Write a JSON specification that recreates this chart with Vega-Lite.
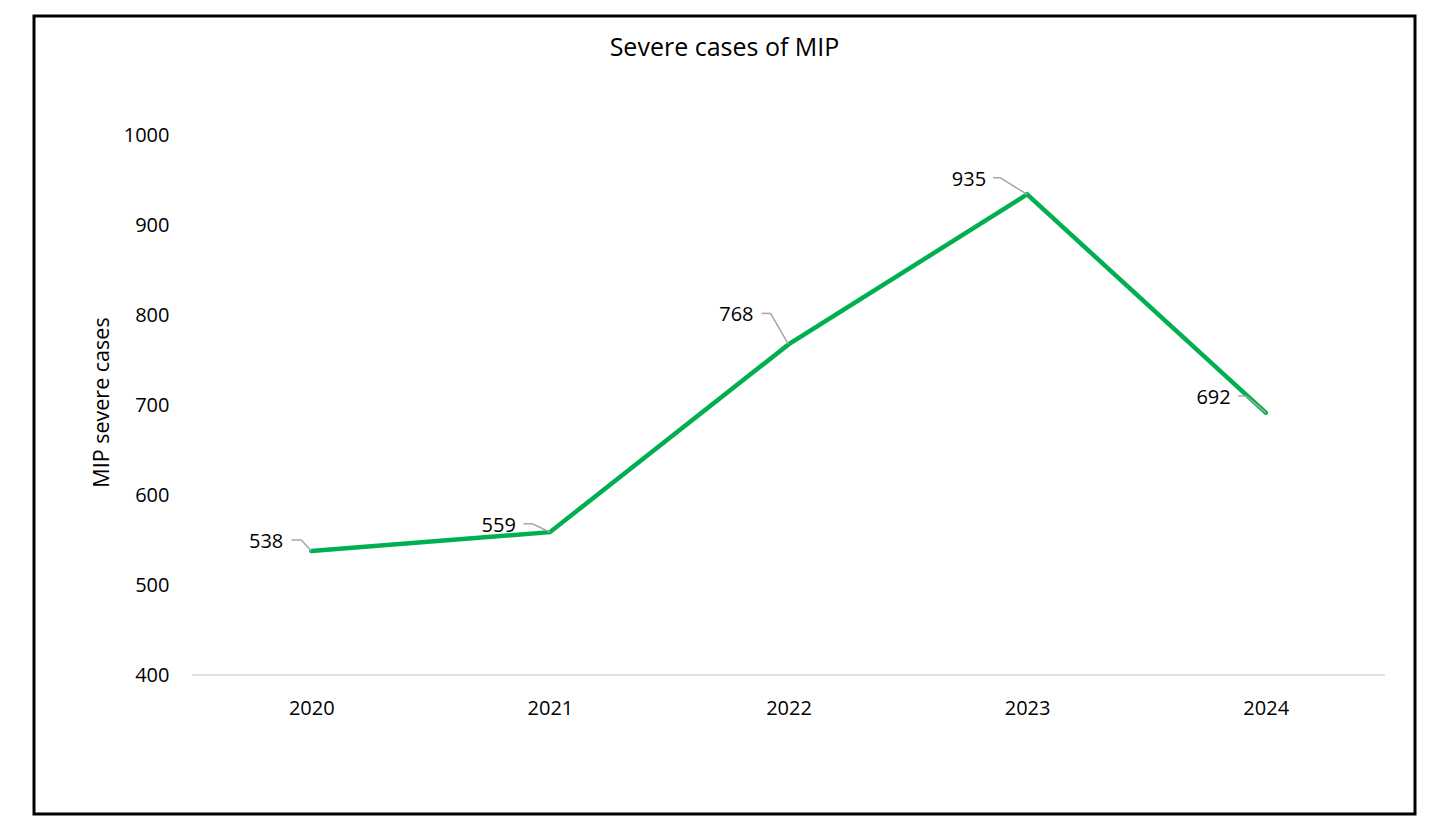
{
  "$schema": "https://vega.github.io/schema/vega-lite/v6.json",
  "autosize": "none",
  "width": 1381,
  "height": 798,
  "padding": {"left": 34, "top": 16, "right": 32, "bottom": 24},
  "background": "white",
  "config": {
    "font": "Open Sans",
    "view": {"stroke": "#000000", "strokeWidth": 3},
    "axis": {
      "labelFont": "Open Sans",
      "labelFontSize": 20,
      "labelColor": "#000000",
      "titleFont": "Open Sans",
      "titleFontSize": 21.5,
      "titleFontWeight": "normal",
      "titleColor": "#000000",
      "grid": false,
      "domain": false,
      "ticks": false,
      "tickSize": 0
    }
  },
  "title": {
    "text": "Severe cases of MIP",
    "font": "Open Sans",
    "fontSize": 25,
    "fontWeight": "normal",
    "color": "#000000",
    "anchor": "middle",
    "frame": "group",
    "baseline": "middle",
    "offset": -57
  },
  "datasets": {
    "cases": [
      {"year": 2020, "cases": 538},
      {"year": 2021, "cases": 559},
      {"year": 2022, "cases": 768},
      {"year": 2023, "cases": 935},
      {"year": 2024, "cases": 692}
    ],
    "baseline": [
      {"from": 2019.5, "to": 2024.5, "level": 400}
    ]
  },
  "data": {"name": "cases"},
  "encoding": {
    "x": {
      "field": "year",
      "type": "quantitative",
      "scale": {"domain": [2018.8378, 2024.6257], "nice": false, "zero": false},
      "axis": {
        "title": null,
        "values": [2020, 2021, 2022, 2023, 2024],
        "format": "d",
        "offset": -139,
        "labelPadding": 23,
        "labelBaseline": "top"
      }
    },
    "y": {
      "field": "cases",
      "type": "quantitative",
      "scale": {"domain": [245.27, 1133.58], "nice": false, "zero": false},
      "axis": {
        "title": "MIP severe cases",
        "values": [400, 500, 600, 700, 800, 900, 1000],
        "format": "d",
        "offset": -158,
        "labelPadding": 23,
        "titleX": -90,
        "titleY": 386,
        "titleAngle": -90,
        "titleAlign": "center",
        "titleBaseline": "middle"
      }
    }
  },
  "layer": [
    {
      "data": {"name": "baseline"},
      "mark": {"type": "rule", "color": "#d9d9d9", "strokeWidth": 1.5},
      "encoding": {
        "x": {"field": "from", "type": "quantitative"},
        "x2": {"field": "to"},
        "y": {"field": "level", "type": "quantitative"}
      }
    },
    {
      "mark": {"type": "line", "color": "#00b050", "strokeWidth": 4.5, "strokeCap": "round", "strokeJoin": "miter"}
    },
    {
      "transform": [{"filter": "datum.year == 2020"}],
      "layer": [
        {"mark": {"type": "rule", "color": "#a6a6a6", "strokeWidth": 1.5, "x2Offset": -10, "y2Offset": -11},
         "encoding": {"x2": {"field": "year"}, "y2": {"field": "cases"}}},
        {"mark": {"type": "rule", "color": "#a6a6a6", "strokeWidth": 1.5, "xOffset": -10, "yOffset": -11, "x2Offset": -20, "y2Offset": -11},
         "encoding": {"x2": {"field": "year"}, "y2": {"field": "cases"}}},
        {"mark": {"type": "text", "align": "right", "baseline": "middle", "dx": -28, "dy": -9, "fontSize": 20, "font": "Open Sans", "color": "#000000"},
         "encoding": {"text": {"field": "cases", "type": "quantitative"}}}
      ]
    },
    {
      "transform": [{"filter": "datum.year == 2021"}],
      "layer": [
        {"mark": {"type": "rule", "color": "#a6a6a6", "strokeWidth": 1.5, "x2Offset": -17.6, "y2Offset": -8.4},
         "encoding": {"x2": {"field": "year"}, "y2": {"field": "cases"}}},
        {"mark": {"type": "rule", "color": "#a6a6a6", "strokeWidth": 1.5, "xOffset": -17.6, "yOffset": -8.4, "x2Offset": -26.6, "y2Offset": -8.4},
         "encoding": {"x2": {"field": "year"}, "y2": {"field": "cases"}}},
        {"mark": {"type": "text", "align": "right", "baseline": "middle", "dx": -34, "dy": -6, "fontSize": 20, "font": "Open Sans", "color": "#000000"},
         "encoding": {"text": {"field": "cases", "type": "quantitative"}}}
      ]
    },
    {
      "transform": [{"filter": "datum.year == 2022"}],
      "layer": [
        {"mark": {"type": "rule", "color": "#a6a6a6", "strokeWidth": 1.5, "x2Offset": -18, "y2Offset": -31},
         "encoding": {"x2": {"field": "year"}, "y2": {"field": "cases"}}},
        {"mark": {"type": "rule", "color": "#a6a6a6", "strokeWidth": 1.5, "xOffset": -18, "yOffset": -31, "x2Offset": -27, "y2Offset": -31},
         "encoding": {"x2": {"field": "year"}, "y2": {"field": "cases"}}},
        {"mark": {"type": "text", "align": "right", "baseline": "middle", "dx": -35, "dy": -29, "fontSize": 20, "font": "Open Sans", "color": "#000000"},
         "encoding": {"text": {"field": "cases", "type": "quantitative"}}}
      ]
    },
    {
      "transform": [{"filter": "datum.year == 2023"}],
      "layer": [
        {"mark": {"type": "rule", "color": "#a6a6a6", "strokeWidth": 1.5, "x2Offset": -27, "y2Offset": -16.7},
         "encoding": {"x2": {"field": "year"}, "y2": {"field": "cases"}}},
        {"mark": {"type": "rule", "color": "#a6a6a6", "strokeWidth": 1.5, "xOffset": -27, "yOffset": -16.7, "x2Offset": -34, "y2Offset": -16.7},
         "encoding": {"x2": {"field": "year"}, "y2": {"field": "cases"}}},
        {"mark": {"type": "text", "align": "right", "baseline": "middle", "dx": -41, "dy": -14.4, "fontSize": 20, "font": "Open Sans", "color": "#000000"},
         "encoding": {"text": {"field": "cases", "type": "quantitative"}}}
      ]
    },
    {
      "transform": [{"filter": "datum.year == 2024"}],
      "layer": [
        {"mark": {"type": "rule", "color": "#a6a6a6", "strokeWidth": 1.5, "x2Offset": -19.7, "y2Offset": -16.7},
         "encoding": {"x2": {"field": "year"}, "y2": {"field": "cases"}}},
        {"mark": {"type": "rule", "color": "#a6a6a6", "strokeWidth": 1.5, "xOffset": -19.7, "yOffset": -16.7, "x2Offset": -27.4, "y2Offset": -16.7},
         "encoding": {"x2": {"field": "year"}, "y2": {"field": "cases"}}},
        {"mark": {"type": "text", "align": "right", "baseline": "middle", "dx": -35, "dy": -14.4, "fontSize": 20, "font": "Open Sans", "color": "#000000"},
         "encoding": {"text": {"field": "cases", "type": "quantitative"}}}
      ]
    }
  ]
}
